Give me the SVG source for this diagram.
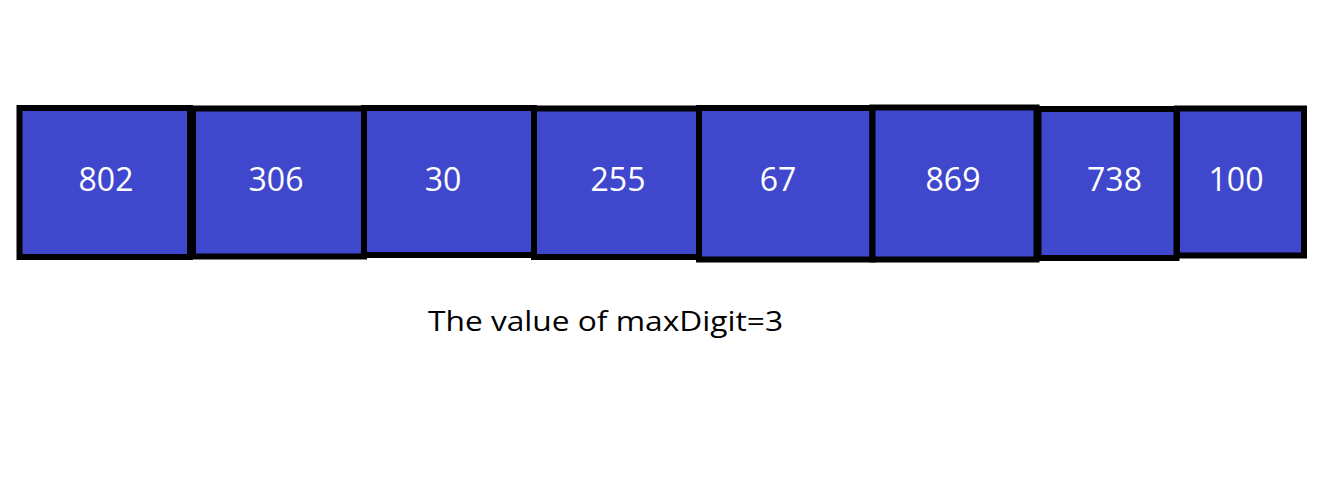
<svg xmlns="http://www.w3.org/2000/svg" width="1330" height="493" viewBox="0 0 1330 493">
<style>
.cell{fill:#3f48cc;stroke:#000;stroke-width:6}
.num{font-family:"Open Sans","Noto Sans",sans-serif;font-size:32px;fill:#fff;text-anchor:middle}
.cap{font-family:"Open Sans","Noto Sans",sans-serif;font-size:28px;fill:#000}
</style>
<rect width="1330" height="493" fill="#fff"/>
<g id="cell-802"><rect class="cell" x="19.5" y="108" width="170.5" height="149"/><text class="num" x="106" y="191">802</text></g>
<g id="cell-306"><rect class="cell" x="193" y="108.5" width="171" height="148"/><text class="num" x="276" y="191">306</text></g>
<g id="cell-30"><rect class="cell" x="364" y="108" width="170" height="147"/><text class="num" x="443" y="191">30</text></g>
<g id="cell-255"><rect class="cell" x="534" y="108.5" width="165" height="148.5"/><text class="num" x="618" y="191">255</text></g>
<g id="cell-67"><rect class="cell" x="699" y="108" width="173.5" height="151.5"/><text class="num" x="778" y="191">67</text></g>
<g id="cell-869"><rect class="cell" x="872.5" y="107.5" width="164" height="152"/><text class="num" x="953" y="191">869</text></g>
<g id="cell-738"><rect class="cell" x="1038.5" y="109" width="138" height="149"/><text class="num" x="1114.5" y="191">738</text></g>
<g id="cell-100"><rect class="cell" x="1177" y="108.5" width="127" height="147"/><text class="num" x="1236" y="191">100</text></g>
<g id="connectors"/>
<g id="caption"><text class="cap" x="428" y="331" textLength="355" lengthAdjust="spacingAndGlyphs">The value of maxDigit=3</text></g>
</svg>
